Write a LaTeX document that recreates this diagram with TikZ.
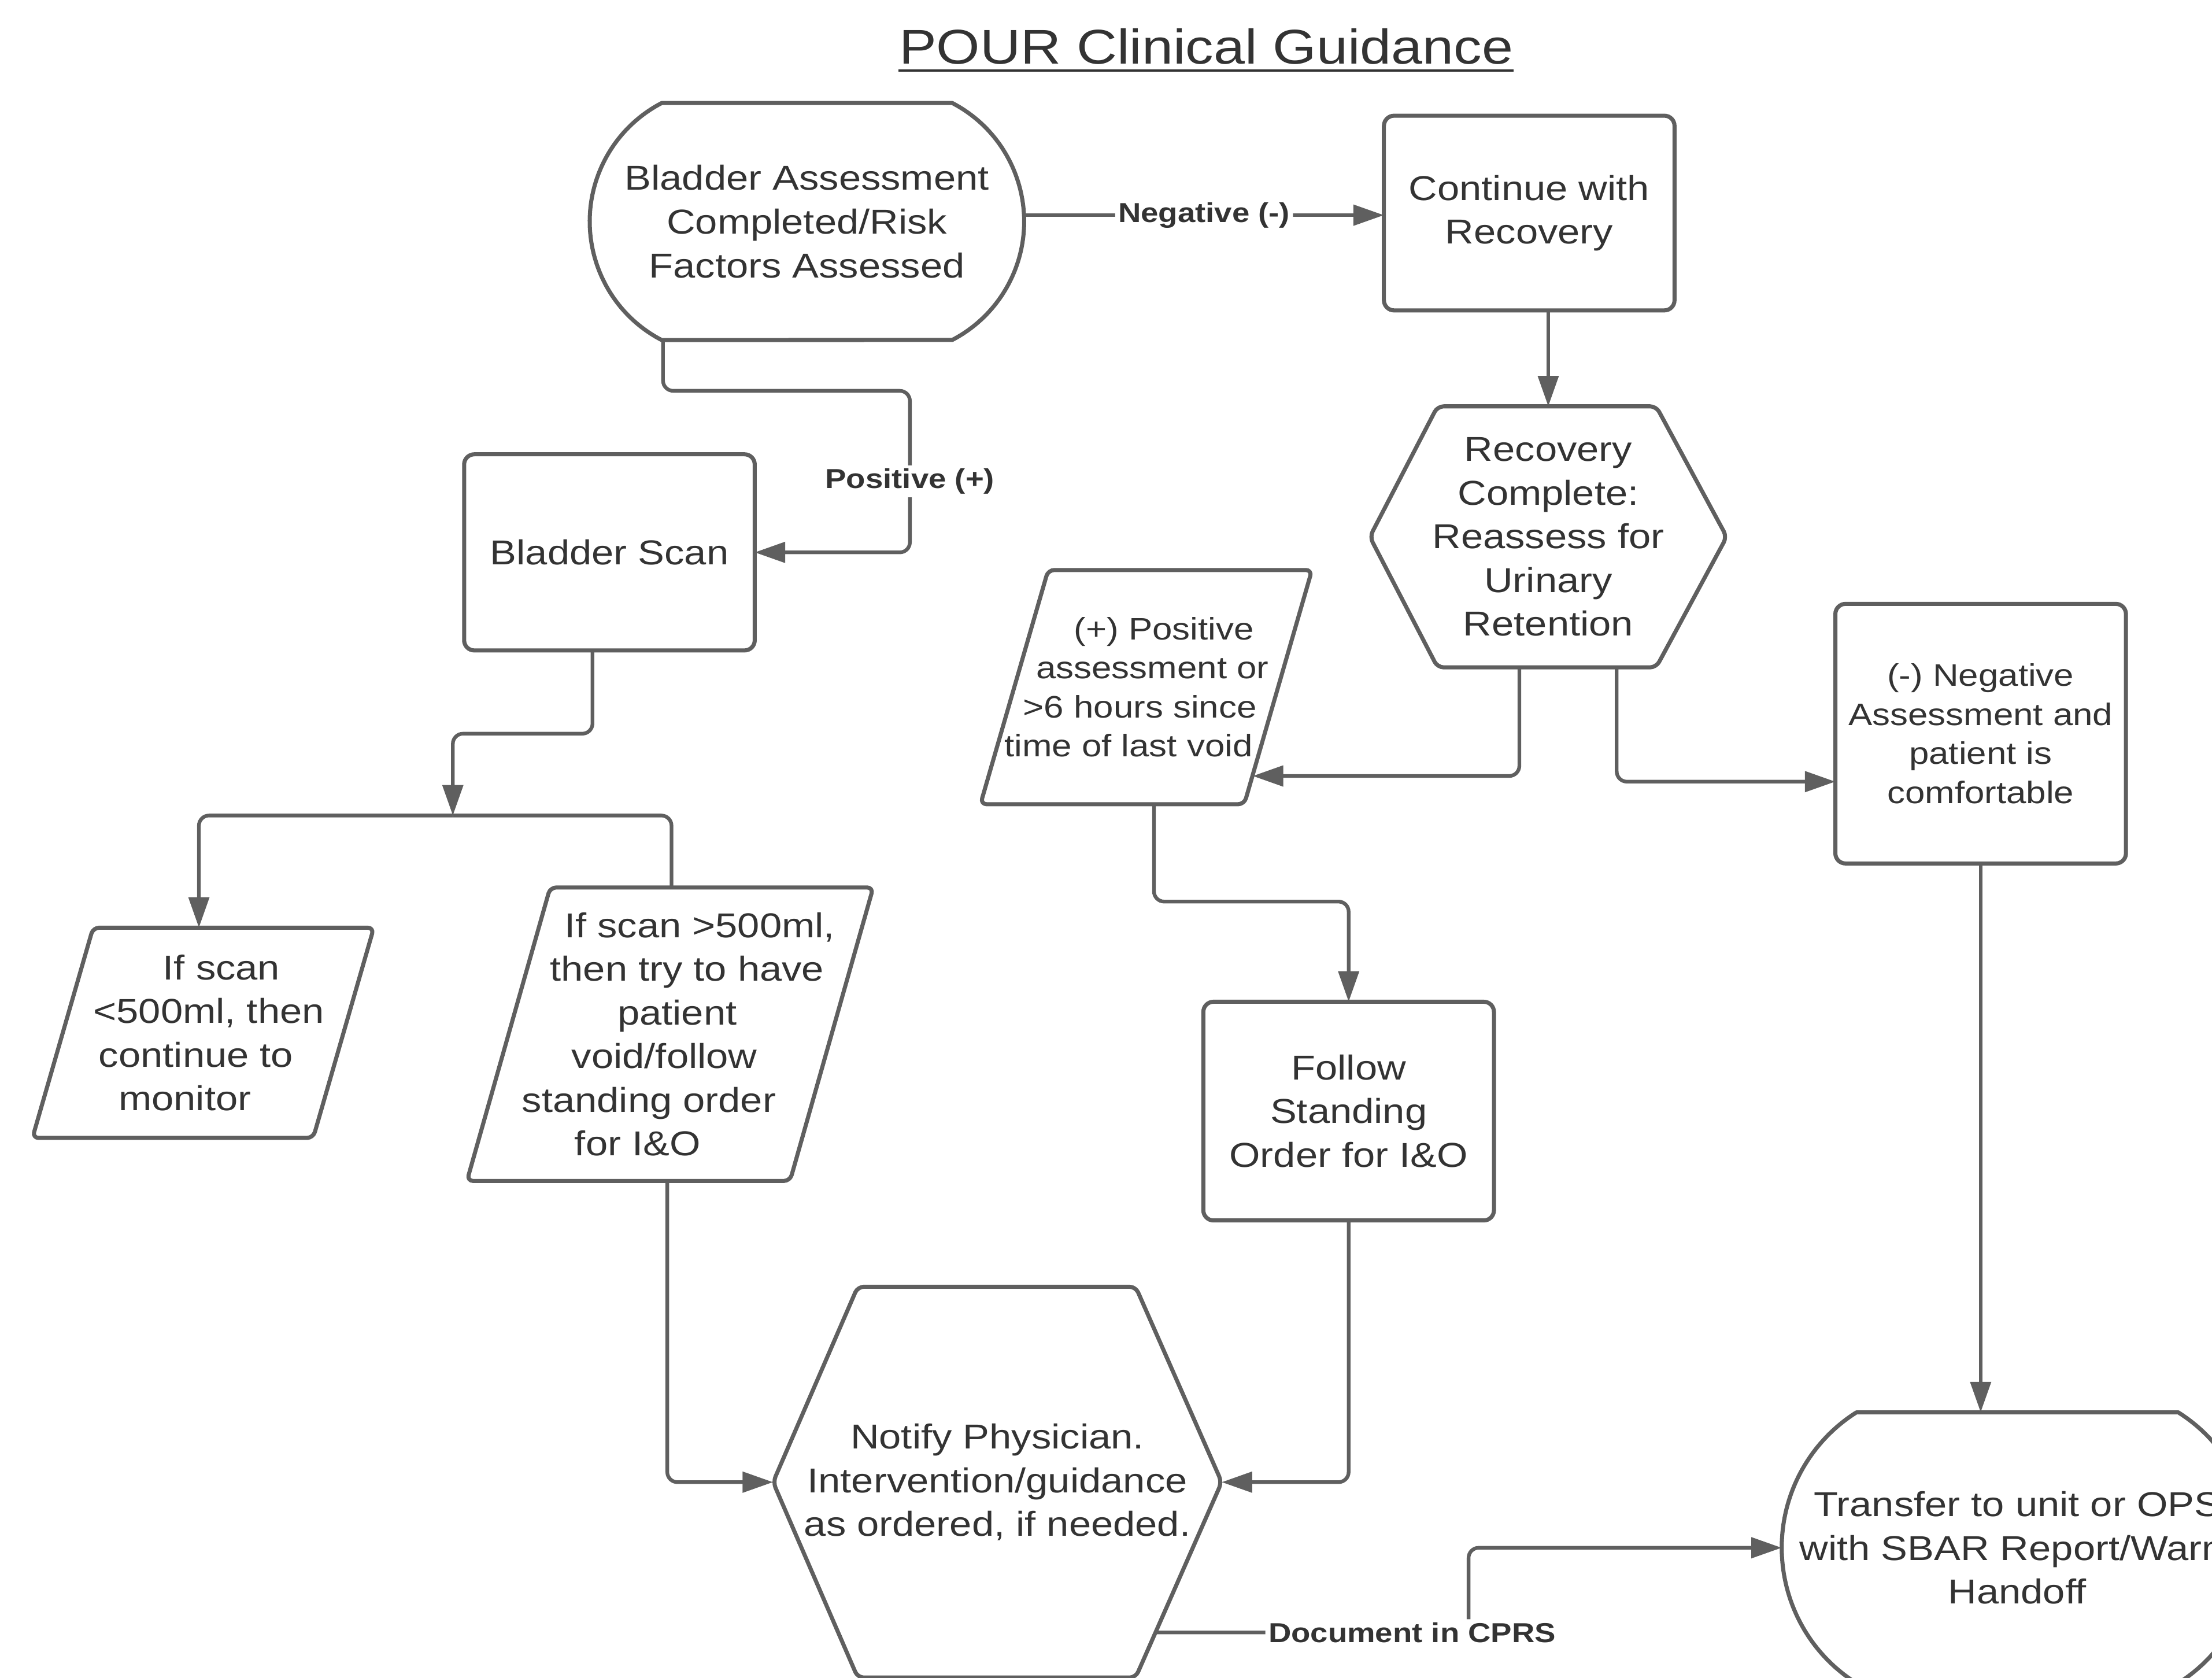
\documentclass[tikz,border=0pt]{standalone}
\usepackage{fontspec}
\setmainfont{Liberation Sans}[FakeStretch=1.15]
\usetikzlibrary{calc,arrows.meta}
\definecolor{linec}{HTML}{5F5F5F}
\definecolor{txtc}{HTML}{333333}
\newcommand\shl[1]{\hspace*{#1}}
\tikzset{
  sz/.style 2 args={minimum width=#1*0.0244cm, minimum height=#2*0.0244cm},
  base/.style={inner sep=0pt, outer sep=0pt, align=center, text=txtc, font=\fontsize{17}{21.5}\selectfont},
  rbox/.style={base, draw=linec, line width=2pt, rounded corners=5pt},
  small/.style={font=\fontsize{15.3}{19.2}\selectfont},
  outl/.style={draw=linec, line width=2pt, line join=round, rounded corners=3pt},
  termoutl/.style={draw=linec, line width=2pt, line join=round},
  conn/.style={draw=linec, line width=1.8pt, rounded corners=5pt, -{Triangle[length=15pt,width=10pt]}},
  plainln/.style={draw=linec, line width=1.8pt, rounded corners=5pt},
  lbl/.style={fill=white, text=txtc, font=\bfseries\fontsize{13.5}{16}\selectfont, inner sep=1.5pt}
}
\begin{document}
\begin{tikzpicture}[x=0.0244cm,y=-0.0244cm]
\fill[white] (0,0) rectangle (1568,1189);
\useasboundingbox (0,0) rectangle (1568,1189);

% title
\node[inner sep=0pt, text=txtc, font=\fontsize{24}{28}\selectfont] (title) at (855,33) {POUR Clinical Guidance};
\draw[txtc, line width=1.2pt] ($(title.south west)+(0,4)$) -- ($(title.south east)+(0,4)$);

% nodes
\node[base, sz={308}{168}] (term1) at (572,157) {Bladder Assessment\\Completed/Risk\\Factors Assessed};
\node[rbox, sz={206}{138}] (cont) at (1084,151) {Continue with\\Recovery};
\node[rbox, sz={206}{139}] (scan) at (432,391.5) {Bladder Scan};
\node[base, sz={253}{185}] (rec) at (1097.5,380.5) {Recovery\\Complete:\\Reassess for\\Urinary\\Retention};
\node[base, small, sz={235}{166}] (pos7) at (812.5,487) {\shl{17.4pt}(+) Positive\\\shl{6.2pt}assessment or\\\shl{-6.2pt}>6 hours since\\\shl{-17.4pt}time of last void};
\node[rbox, small, sz={206}{184}] (neg) at (1404,520) {(-) Negative\\Assessment and\\patient is\\comfortable};
\node[base, sz={242}{149}] (lowpara) at (144,732) {\shl{18pt}If scan\\\shl{5.6pt}<500ml, then\\\shl{-7pt}continue to\\\shl{-18pt}monitor};
\node[base, sz={288}{208}] (highpara) at (475,733) {\shl{29pt}If scan >500ml,\\\shl{16.7pt}then try to have\\\shl{7pt}patient\\\shl{-5.6pt}void/follow\\\shl{-20.8pt}standing order\\\shl{-32pt}for I\&O};
\node[rbox, sz={206}{155}] (follow) at (956,787.5) {Follow\\Standing\\Order for I\&O};
\node[base, sz={318}{277}] (notify) at (707,1050.5) {Notify Physician.\\Intervention/guidance\\as ordered, if needed.};
\node[base, sz={334}{192}] (transfer) at (1430,1097) {Transfer to unit or OPS\\with SBAR Report/Warm\\Handoff};

% outlines
\draw[termoutl] ($(term1.north west)+(51,0)$) -- ($(term1.north east)+(-51,0)$)
  arc[start angle=62.5,end angle=-62.5,radius=2.310cm]
  -- ($(term1.south west)+(51,0)$)
  arc[start angle=242.5,end angle=117.5,radius=2.310cm] -- cycle;
\draw[termoutl] ($(transfer.north west)+(53,0)$) -- ($(transfer.north east)+(-53,0)$)
  arc[start angle=57.8,end angle=-57.8,radius=2.768cm]
  -- ($(transfer.south west)+(53,0)$)
  arc[start angle=237.8,end angle=122.2,radius=2.768cm] -- cycle;
\draw[outl] (rec.west) -- ($(rec.north west)+(48,0)$) -- ($(rec.north east)+(-50,0)$) -- (rec.east)
  -- ($(rec.south east)+(-50,0)$) -- ($(rec.south west)+(48,0)$) -- cycle;
\draw[outl] (notify.west) -- ($(notify.north west)+(60,0)$) -- ($(notify.north east)+(-61,0)$) -- (notify.east)
  -- ($(notify.south east)+(-61,0)$) -- ($(notify.south west)+(60,0)$) -- cycle;
\draw[outl] ($(pos7.north west)+(48,0)$) -- (pos7.north east) -- ($(pos7.south east)+(-48,0)$) -- (pos7.south west) -- cycle;
\draw[outl] ($(lowpara.north west)+(43,0)$) -- (lowpara.north east) -- ($(lowpara.south east)+(-43,0)$) -- (lowpara.south west) -- cycle;
\draw[outl] ($(highpara.north west)+(59,0)$) -- (highpara.north east) -- ($(highpara.south east)+(-59,0)$) -- (highpara.south west) -- cycle;

% connectors
\draw[conn] ($(term1.east |- cont.west)+(0,1.5)$) -- node[lbl]{Negative (-)} ($(cont.west)+(0,1.5)$);
\draw[conn] ($(term1.south)+(-102,0)$) -- ++(0,36) -| node[lbl,pos=0.78]{Positive (+)} ($(scan.east)+(110,0)$) -- (scan.east);
\draw[conn] (rec.north |- cont.south) -- (rec.north);
\draw[conn] ($(rec.south)+(-20.5,0)$) |- ($(pos7.center)+(75.5,63)$);
\draw[conn] ($(rec.south)+(48.5,0)$) |- ($(neg.west)+(0,34)$);
\coordinate (split) at (321,578);
\draw[conn] ($(scan.south)+(-12,0)$) -- ++(0,59) -| (split);
\draw[conn] (split) -| ($(lowpara.north)+(-3,0)$);
\draw[plainln] (split) -| ($(highpara.north)+(1,0)$);
\draw[conn] ($(pos7.south)+(5.5,0)$) -- ++(0,69) -| (follow.north);
\draw[conn] ($(highpara.south)+(-2,0)$) |- (notify.west);
\draw[conn] (follow.south) |- (notify.east);
\draw[conn] (neg.south) -- (neg.south |- transfer.north);
\draw[conn] ($(notify.center)+(112,106.5)$) -- ++(222,0) node[lbl,pos=0.82]{Document in CPRS} |- (transfer.west);
\end{tikzpicture}
\end{document}
